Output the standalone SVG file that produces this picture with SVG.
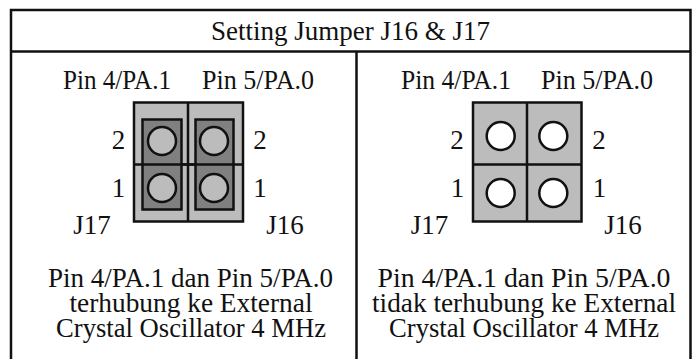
<svg xmlns="http://www.w3.org/2000/svg" width="696" height="359" viewBox="0 0 696 359">
<style>
text{font-family:"Liberation Serif","Times New Roman",serif;font-size:27px;fill:#111;text-anchor:middle}
.l{stroke:#111;stroke-width:2.5;fill:none}
.b{fill:#bcbcbc;stroke:#111;stroke-width:2.5}
.j{fill:#808080;stroke:#111;stroke-width:2.5}
.o{fill:#bcbcbc;stroke:#111;stroke-width:2.5}
.w{fill:#fff;stroke:#111;stroke-width:2.5}
</style>
<rect width="696" height="359" fill="#fff"/>
<g id="frame">
<path class="l" stroke-width="3" d="M11 359V10H690.500V359M11 51.500H690.500M356.500 51.500V359"/>
</g>
<text x="350.500" y="40" textLength="279" lengthAdjust="spacingAndGlyphs">Setting Jumper J16 &amp; J17</text>
<g id="left-jumper">
<rect class="b" x="134" y="102.500" width="109" height="119"/>
<path class="l" d="M188 102.500V221.500M134 164.500H243"/>
<rect class="j" x="142.500" y="119.500" width="39" height="90"/>
<rect class="j" x="195.500" y="119.500" width="38" height="90"/>
<path class="l" d="M142 164.500H234"/>
<circle class="o" cx="162" cy="141" r="14"/><circle class="o" cx="214" cy="141" r="14"/>
<circle class="o" cx="162" cy="188" r="14"/><circle class="o" cx="214" cy="188" r="14"/>
</g>
<g id="right-jumper">
<rect class="b" x="473" y="102.500" width="108.500" height="119"/>
<path class="l" d="M527 102.500V221.500M473 164.500H581.500"/>
<circle class="w" cx="500.700" cy="136" r="14"/><circle class="w" cx="553.300" cy="136" r="14"/>
<circle class="w" cx="500.700" cy="193" r="14"/><circle class="w" cx="553.300" cy="193" r="14"/>
</g>
<g id="left-labels">
<text x="117" y="88.500" textLength="108" lengthAdjust="spacingAndGlyphs">Pin 4/PA.1</text>
<text x="258" y="88.500" textLength="112" lengthAdjust="spacingAndGlyphs">Pin 5/PA.0</text>
<text x="118.500" y="149">2</text><text x="118.500" y="197">1</text>
<text x="260" y="149">2</text><text x="260" y="197">1</text>
<text x="92" y="234">J17</text><text x="285" y="234">J16</text>
<text x="190.500" y="287" textLength="285" lengthAdjust="spacingAndGlyphs">Pin 4/PA.1 dan Pin 5/PA.0</text>
<text x="191" y="312" textLength="243" lengthAdjust="spacingAndGlyphs">terhubung ke External</text>
<text x="191" y="336.500" textLength="270" lengthAdjust="spacingAndGlyphs">Crystal Oscillator 4 MHz</text>
</g>
<g id="right-labels">
<text x="456" y="88.500" textLength="110" lengthAdjust="spacingAndGlyphs">Pin 4/PA.1</text>
<text x="597" y="88.500" textLength="112" lengthAdjust="spacingAndGlyphs">Pin 5/PA.0</text>
<text x="457" y="149">2</text><text x="457.500" y="197">1</text>
<text x="599" y="149">2</text><text x="599.500" y="197">1</text>
<text x="429.500" y="234">J17</text><text x="623" y="234">J16</text>
<text x="524" y="287" textLength="293" lengthAdjust="spacingAndGlyphs">Pin 4/PA.1 dan Pin 5/PA.0</text>
<text x="524" y="312" textLength="304" lengthAdjust="spacingAndGlyphs">tidak terhubung ke External</text>
<text x="524" y="336.500" textLength="270" lengthAdjust="spacingAndGlyphs">Crystal Oscillator 4 MHz</text>
</g>
</svg>
